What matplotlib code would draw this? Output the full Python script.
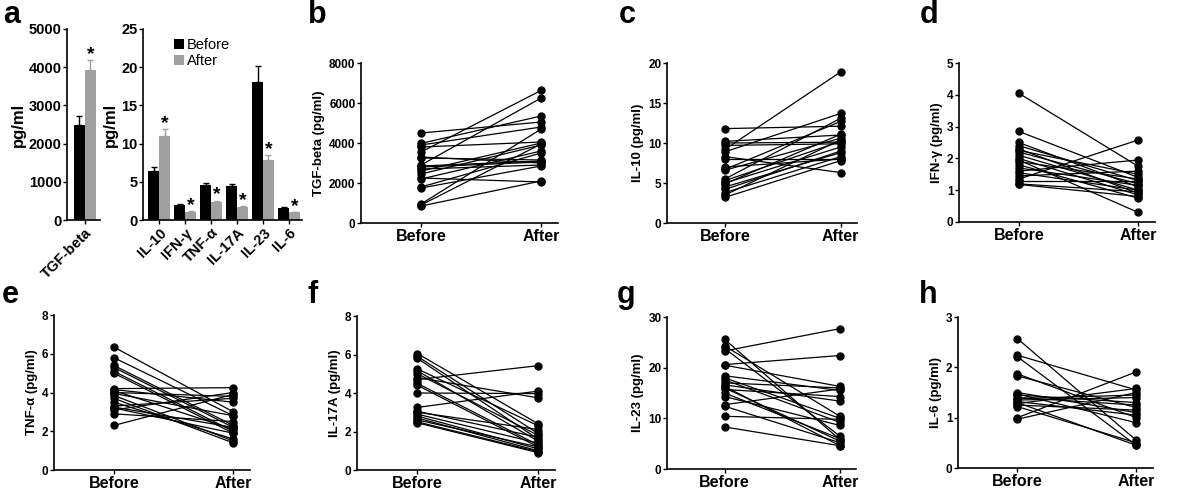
import matplotlib
matplotlib.use('Agg')
import matplotlib.pyplot as plt
import numpy as np

plt.rcParams['font.family'] = ['Liberation Sans', 'DejaVu Sans']

# panel a: means and sem
tgf_labels = ['TGF-beta']
tgf_before = [2480]
tgf_before_err = [230]
tgf_after = [3920]
tgf_after_err = [270]

cyto_labels = ['IL-10', 'IFN-γ', 'TNF-α', 'IL-17A', 'IL-23', 'IL-6']
cyto_before = [6.4, 2.0, 4.6, 4.4, 18.0, 1.6]
cyto_before_err = [0.5, 0.1, 0.2, 0.25, 2.1, 0.1]
cyto_after = [11.0, 1.1, 2.4, 1.7, 7.8, 1.0]
cyto_after_err = [0.9, 0.08, 0.15, 0.1, 0.7, 0.1]

# paired data, before -> after
tgf_b = [4500, 3980, 3900, 3800, 3550, 3300, 3250, 2900, 2850, 2800, 2700, 2600, 2450, 2250, 2200, 1800, 1750, 950, 900, 850]
tgf_a = [5050, 5350, 4800, 4050, 6630, 3000, 3150, 6250, 3100, 3050, 2900, 4000, 3900, 2050, 3600, 3500, 2850, 4700, 3950, 2100]

il10_b = [11.8, 10.2, 10.0, 9.7, 9.2, 8.9, 8.3, 8.0, 7.0, 6.7, 6.6, 5.5, 5.3, 5.0, 4.9, 4.5, 4.2, 3.8, 3.5, 3.2]
il10_a = [12.1, 11.0, 10.1, 9.9, 18.9, 13.7, 6.3, 8.0, 8.0, 12.7, 10.6, 13.1, 10.2, 9.5, 11.1, 8.8, 9.0, 8.3, 10.4, 7.8]

ifn_b = [4.05, 2.85, 2.5, 2.4, 2.3, 2.25, 2.2, 2.1, 2.0, 1.95, 1.9, 1.8, 1.7, 1.6, 1.55, 1.45, 1.35, 1.3, 1.2, 1.18]
ifn_a = [1.75, 1.4, 1.1, 1.3, 0.9, 1.5, 1.2, 1.0, 0.85, 0.3, 1.35, 0.75, 1.15, 1.95, 1.0, 1.6, 2.58, 1.3, 0.95, 0.8]

tnf_b = [6.35, 5.8, 5.4, 5.3, 5.1, 5.0, 4.2, 4.15, 4.1, 4.0, 3.95, 3.85, 3.7, 3.5, 3.3, 3.25, 3.2, 3.1, 2.9, 2.3]
tnf_a = [3.0, 2.8, 2.3, 2.2, 2.0, 1.9, 4.25, 3.5, 2.1, 3.8, 2.8, 1.5, 1.4, 1.6, 3.7, 2.2, 1.9, 4.0, 2.5, 3.9]

il17_b = [6.05, 5.9, 5.8, 5.25, 5.15, 5.0, 4.8, 4.7, 4.5, 4.4, 4.0, 3.25, 3.05, 3.0, 2.9, 2.8, 2.7, 2.6, 2.5, 2.45]
il17_a = [2.4, 1.9, 1.6, 2.3, 1.5, 1.8, 3.75, 5.42, 1.3, 1.2, 3.97, 4.1, 1.7, 2.1, 1.4, 1.1, 1.0, 1.2, 0.95, 0.9]

il23_b = [25.6, 24.3, 23.8, 23.3, 20.6, 20.5, 18.4, 18.0, 17.6, 17.0, 16.6, 16.3, 16.0, 15.7, 15.0, 14.3, 12.7, 12.4, 10.4, 8.3]
il23_a = [5.8, 10.4, 6.5, 27.7, 22.4, 16.3, 15.5, 10.0, 9.2, 16.0, 13.4, 4.6, 5.5, 14.3, 6.0, 8.6, 15.8, 5.2, 9.8, 4.6]

il6_b = [2.57, 2.24, 2.21, 1.87, 1.83, 1.5, 1.47, 1.45, 1.4, 1.38, 1.35, 1.32, 1.3, 1.28, 1.25, 1.22, 1.0, 0.97]
il6_a = [0.55, 1.55, 0.45, 1.0, 1.2, 1.1, 0.9, 1.3, 1.25, 1.45, 1.4, 1.05, 0.45, 1.58, 1.15, 0.5, 1.91, 1.5]

W, H = 1200, 490
fig = plt.figure(figsize=(12, 4.9), dpi=100)


def px_axes(x0, x1, ytop, ybot):
    return fig.add_axes([x0 / W, (H - ybot) / H, (x1 - x0) / W, (ybot - ytop) / H])


def style(ax, size):
    for s in ['top', 'right']:
        ax.spines[s].set_visible(False)
    for s in ['left', 'bottom']:
        ax.spines[s].set_linewidth(1.2)
    ax.tick_params(length=3, width=1, pad=1)
    ax.set_yticks(ax.get_yticks())
    ax.set_yticklabels([f'{v:g}' for v in ax.get_yticks()], fontsize=size, fontweight='bold')


gray = '#a0a0a0'
bw = 0.42

# panel a left
ax = px_axes(67, 100, 29, 220)
x = np.arange(len(tgf_labels))
ax.bar(x - bw / 2, tgf_before, bw, color='black',
       yerr=[np.zeros(1), tgf_before_err], capsize=2, error_kw=dict(ecolor='black', lw=1))
ax.bar(x + bw / 2, tgf_after, bw, color=gray,
       yerr=[np.zeros(1), tgf_after_err], capsize=2, error_kw=dict(ecolor=gray, lw=1))
for xi, v, e in zip(x, tgf_after, tgf_after_err):
    ax.text(xi + bw / 2, v + e - 80, '*', ha='center', va='bottom', fontsize=14, fontweight='bold')
ax.set_xlim(-0.69, 0.58)
ax.set_ylim(0, 5000)
ax.set_yticks(range(0, 5001, 1000))
ax.set_xticks(x)
ax.set_xticklabels(tgf_labels, rotation=45, ha='right', rotation_mode='anchor',
                   fontsize=10.5, fontweight='bold')
ax.set_ylabel('pg/ml', fontsize=12, fontweight='bold', labelpad=2)
style(ax, 10.5)

# panel a right
ax = px_axes(143, 302, 29, 220)
x = np.arange(len(cyto_labels))
ax.bar(x - bw / 2, cyto_before, bw, color='black', label='Before',
       yerr=[np.zeros(len(x)), cyto_before_err], capsize=2, error_kw=dict(ecolor='black', lw=1))
ax.bar(x + bw / 2, cyto_after, bw, color=gray, label='After',
       yerr=[np.zeros(len(x)), cyto_after_err], capsize=2, error_kw=dict(ecolor=gray, lw=1))
for xi, v, e in zip(x, cyto_after, cyto_after_err):
    ax.text(xi + bw / 2, v + e - 0.4, '*', ha='center', va='bottom', fontsize=14, fontweight='bold')
ax.set_xlim(-0.62, 5.5)
ax.set_ylim(0, 25)
ax.set_yticks(range(0, 26, 5))
ax.set_xticks(x)
ax.set_xticklabels(cyto_labels, rotation=45, ha='right', rotation_mode='anchor',
                   fontsize=10.5, fontweight='bold')
ax.set_ylabel('pg/ml', fontsize=12, fontweight='bold', labelpad=2)
ax.legend(loc='upper left', bbox_to_anchor=(0.14, 1.0), frameon=False, fontsize=10.5,
          handlelength=0.7, handleheight=0.7, handletextpad=0.2, labelspacing=0.15,
          borderaxespad=0.2)
style(ax, 10.5)

panels = [
    (tgf_b, tgf_a, 'TGF-beta (pg/ml)', 8000, 2000, 361, 558, 63, 223),
    (il10_b, il10_a, 'IL-10 (pg/ml)', 20, 5, 667, 857, 63, 223),
    (ifn_b, ifn_a, 'IFN-γ (pg/ml)', 5, 1, 959, 1155, 63, 222),
    (tnf_b, tnf_a, 'TNF-α (pg/ml)', 8, 2, 54, 250, 315, 470),
    (il17_b, il17_a, 'IL-17A (pg/ml)', 8, 2, 357, 555, 316, 470),
    (il23_b, il23_a, 'IL-23 (pg/ml)', 30, 10, 667, 856, 317, 469),
    (il6_b, il6_a, 'IL-6 (pg/ml)', 3, 1, 958, 1153, 317, 468),
]

for before, after, ylabel, ymax, step, x0, x1, yt, yb in panels:
    ax = px_axes(x0, x1, yt, yb)
    for b, a in zip(before, after):
        ax.plot([0, 1], [b, a], color='black', lw=0.9, marker='o', ms=5, clip_on=False)
    ax.set_xlim(-0.5, 1.14)
    ax.set_ylim(0, ymax)
    ax.set_yticks(np.arange(0, ymax + step / 2, step))
    ax.set_xticks([0, 1])
    ax.set_xticklabels(['Before', 'After'], fontsize=11.5, fontweight='bold')
    ax.set_ylabel(ylabel, fontsize=9.5, fontweight='bold', labelpad=3)
    style(ax, 8.5)
    ax.tick_params(axis='x', pad=1.5)

letters = [('a', 12, 15), ('b', 317, 15), ('c', 627, 15), ('d', 929, 15),
           ('e', 10, 295), ('f', 313, 295), ('g', 626, 295), ('h', 928, 295)]
for s, lx, ly in letters:
    fig.text(lx / W, 1 - ly / H, s, fontsize=22, fontweight='bold', ha='center', va='center')

fig.savefig('out.png', dpi=100)
